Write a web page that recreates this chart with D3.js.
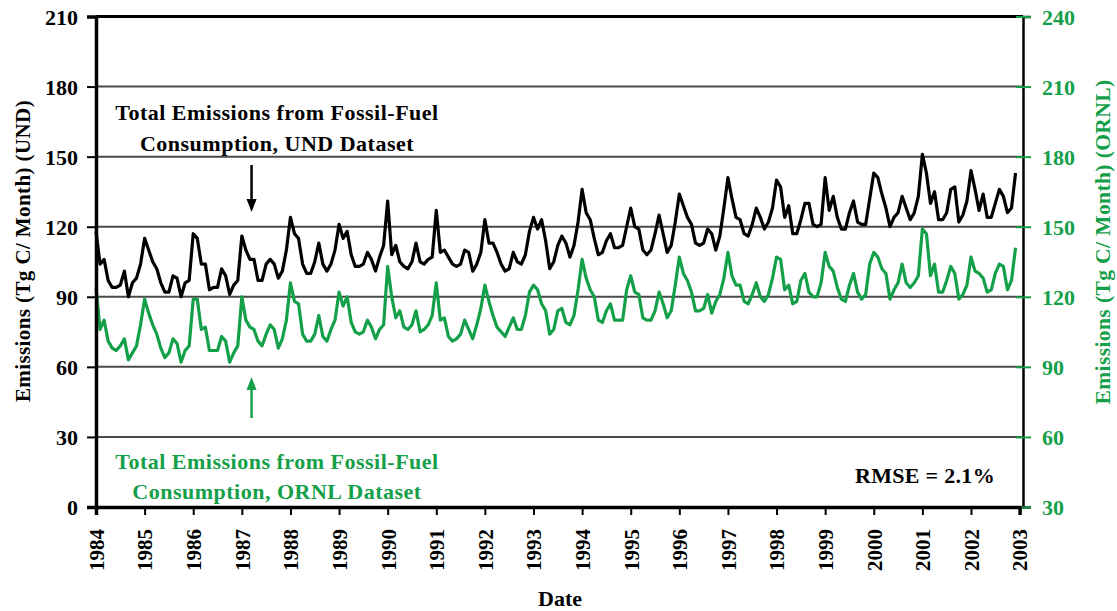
<!DOCTYPE html>
<html>
<head>
<meta charset="utf-8">
<script src="https://cdn.jsdelivr.net/npm/d3@7"></script>
<style>
  body { margin: 0; background: #fff; }
  svg text { font-family: "Liberation Serif", "Times New Roman", serif; font-weight: bold; }
</style>
</head>
<body>
<svg width="1117" height="611"></svg>
<script>
// tick labels
var years = d3.range(1984, 2004);
var leftTicks = [0, 30, 60, 90, 120, 150, 180, 210];
var rightTicks = [30, 60, 90, 120, 150, 180, 210, 240];

// monthly totals, Jan 1984 - Dec 2002 (Tg C / month), UND dataset (left axis)
var und = [
  118,104,106,97,94,94,95,101,90,96,98,104,      // 1984
  115,110,105,102,96,92,92,99,98,90,96,97,       // 1985
  117,115,104,104,93,94,94,102,99,91,95,97,      // 1986
  116,110,106,106,97,97,104,106,104,98,101,110,  // 1987
  124,117,115,104,100,100,105,113,104,101,104,110, // 1988
  121,115,118,108,103,103,104,109,106,101,107,112, // 1989
  131,108,112,105,103,102,105,113,105,104,106,107, // 1990
  127,109,110,107,104,103,104,110,109,101,104,109, // 1991
  123,113,113,109,104,101,102,109,105,104,108,118, // 1992
  124,119,123,114,102,105,112,116,113,107,112,122, // 1993
  136,126,123,115,108,109,114,117,111,111,112,120, // 1994
  128,120,119,110,108,110,117,125,117,109,112,122, // 1995
  134,129,124,121,113,112,113,119,117,110,116,128, // 1996
  141,132,124,123,117,116,121,128,124,119,122,128, // 1997
  140,137,124,129,117,117,123,130,130,121,120,121, // 1998
  141,127,133,124,119,119,126,131,122,121,121,132, // 1999
  143,141,134,128,120,124,126,133,128,123,126,133, // 2000
  151,143,130,135,123,123,126,136,137,122,125,131, // 2001
  144,136,127,134,124,124,130,136,133,126,128,143  // 2002
];

// same months, ORNL dataset (right axis)
var ornl = [
  124,106,110,101,98,97,99,102,93,96,99,108,     // 1984
  119,113,108,104,98,94,96,102,100,92,97,99,     // 1985
  119,119,106,107,97,97,97,103,101,92,96,99,     // 1986
  120,110,107,106,101,99,104,108,106,98,102,110, // 1987
  126,118,117,104,101,101,104,112,103,101,106,110, // 1988
  122,116,120,109,105,104,105,110,107,102,106,108, // 1989
  133,120,111,114,107,106,108,114,105,106,108,112, // 1990
  126,110,111,103,101,102,104,110,106,102,108,115, // 1991
  125,118,112,107,105,103,107,111,106,106,112,122, // 1992
  125,123,117,114,104,106,114,115,109,108,112,123, // 1993
  136,128,123,120,110,109,114,117,110,110,110,123, // 1994
  129,122,121,111,110,110,114,122,117,111,114,125, // 1995
  137,130,127,122,114,114,115,121,113,118,121,128, // 1996
  139,129,125,125,118,117,121,126,120,118,121,128, // 1997
  137,136,123,125,117,118,127,130,122,120,120,126, // 1998
  139,133,131,124,119,118,125,130,122,119,121,134, // 1999
  139,137,132,130,119,123,126,134,126,124,126,129, // 2000
  149,147,129,134,122,122,127,133,130,119,121,125, // 2001
  137,131,130,128,122,123,130,134,133,123,127,141  // 2002
];

var green = '#14a049';
var svg = d3.select('svg');

var pL = 96, pR = 1023, pT = 16.5, pB = 507;
var x = d3.scaleLinear().domain([1984, 2003]).range([pL, 1019.6]);
var yL = d3.scaleLinear().domain([0, 210]).range([pB, pT]);
var yR = d3.scaleLinear().domain([30, 240]).range([pB, pT]);

// grid lines
svg.append('g').selectAll('line')
  .data(leftTicks.filter(function(d){ return d > 0 && d < 210; }))
  .enter().append('line')
  .attr('x1', pL).attr('x2', pR)
  .attr('y1', function(d){ return yL(d); }).attr('y2', function(d){ return yL(d); })
  .attr('stroke', '#4a4a4a').attr('stroke-width', 2);

// top border
svg.append('line').attr('x1', pL).attr('x2', pR).attr('y1', pT).attr('y2', pT)
  .attr('stroke', '#000').attr('stroke-width', 3);

// data lines
var lineDate = function(d, i){ return x(1984 + i / 12); };
svg.append('path').datum(ornl)
  .attr('d', d3.line().x(lineDate).y(function(d){ return yR(d); }))
  .attr('fill', 'none').attr('stroke', green).attr('stroke-width', 3.2).attr('stroke-linejoin', 'round');
svg.append('path').datum(und)
  .attr('d', d3.line().x(lineDate).y(function(d){ return yL(d); }))
  .attr('fill', 'none').attr('stroke', '#000').attr('stroke-width', 3.2).attr('stroke-linejoin', 'round');

// left axis
var gl = svg.append('g').attr('transform', 'translate(' + pL + ',0)')
  .call(d3.axisLeft(yL).tickValues(leftTicks).tickSize(9).tickPadding(9));
gl.select('.domain').attr('stroke', '#000').attr('stroke-width', 3.5);
gl.selectAll('.tick line').attr('stroke', '#000').attr('stroke-width', 2);
gl.selectAll('.tick text').attr('fill', '#000').style('font-size', '22px').attr('dy', '0.36em');

// right axis
var gr = svg.append('g').attr('transform', 'translate(' + pR + ',0)')
  .call(d3.axisRight(yR).tickValues(rightTicks).tickSize(8).tickPadding(11));
gr.select('.domain').attr('stroke', '#000').attr('stroke-width', 2.5);
gr.selectAll('.tick line').attr('x1', -7).attr('stroke', green).attr('stroke-width', 2);
gr.selectAll('.tick text').attr('fill', green).style('font-size', '22px').attr('dy', '0.36em');

// bottom axis
var gb = svg.append('g').attr('transform', 'translate(0,' + pB + ')')
  .call(d3.axisBottom(x).tickValues(years).tickSize(8).tickFormat(d3.format('d')));
gb.select('.domain').attr('stroke', '#000').attr('stroke-width', 3.5);
gb.selectAll('.tick line').attr('stroke', '#000').attr('stroke-width', 2);
gb.selectAll('.tick text').attr('fill', '#000').style('font-size', '21px')
  .attr('transform', 'rotate(-90)').attr('text-anchor', 'end')
  .attr('x', -22).attr('y', 0).attr('dy', '0.35em');

// axis titles
svg.append('text').attr('transform', 'translate(30,251) rotate(-90)')
  .attr('text-anchor', 'middle').style('font-size', '21px').style('letter-spacing', '0.4px').attr('fill', '#000')
  .text('Emissions (Tg C/ Month) (UND)');
svg.append('text').attr('transform', 'translate(1110,242) rotate(-90)')
  .attr('text-anchor', 'middle').style('font-size', '21.5px').style('letter-spacing', '0.4px').attr('fill', green)
  .text('Emissions (Tg C/ Month) (ORNL)');
svg.append('text').attr('x', 560).attr('y', 606)
  .attr('text-anchor', 'middle').style('font-size', '22px').attr('fill', '#000')
  .text('Date');

// annotations
var ax = x(1987.2);
var note = function(txt, ty, col){
  svg.append('text').attr('x', 277).attr('y', ty).attr('text-anchor', 'middle')
    .style('font-size', '22px').style('letter-spacing', '0.5px').attr('fill', col).text(txt);
};
note('Total Emissions from Fossil-Fuel', 120, '#000');
note('Consumption, UND Dataset', 151, '#000');
svg.append('line').attr('x1', ax).attr('x2', ax).attr('y1', 165).attr('y2', 202)
  .attr('stroke', '#000').attr('stroke-width', 2.5);
svg.append('path').attr('d', 'M' + (ax - 5) + ',199 L' + (ax + 5) + ',199 L' + ax + ',212 Z').attr('fill', '#000');

svg.append('line').attr('x1', ax).attr('x2', ax).attr('y1', 387).attr('y2', 418)
  .attr('stroke', green).attr('stroke-width', 2.5);
svg.append('path').attr('d', 'M' + (ax - 5) + ',390 L' + (ax + 5) + ',390 L' + ax + ',377 Z').attr('fill', green);
note('Total Emissions from Fossil-Fuel', 469, green);
note('Consumption, ORNL Dataset', 499, green);

svg.append('text').attr('x', 925).attr('y', 483).attr('text-anchor', 'middle')
  .style('font-size', '22px').style('letter-spacing', '0.3px').attr('fill', '#000').text('RMSE = 2.1%');
</script>
</body>
</html>
